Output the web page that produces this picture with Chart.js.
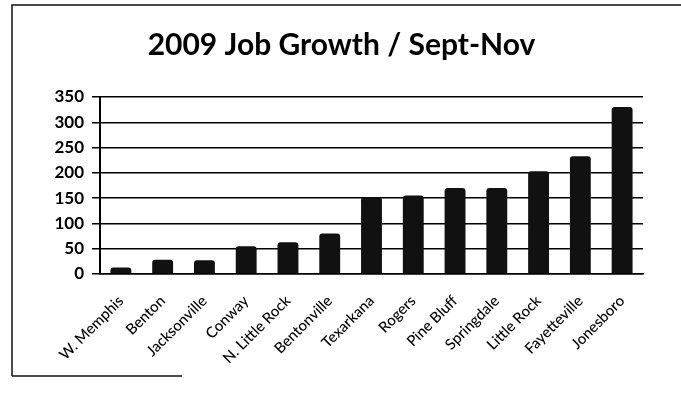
<!DOCTYPE html>
<html>
<head>
<meta charset="utf-8">
<script src="https://cdn.jsdelivr.net/npm/chart.js@4"></script>
<style>
  html, body { margin: 0; padding: 0; background: #fff; }
  #wrap { width: 681px; height: 404px; }
</style>
</head>
<body>
<div id="wrap"><canvas id="jobChart"></canvas></div>
<script>
// data
const cities = ["W. Memphis", "Benton", "Jacksonville", "Conway", "N. Little Rock", "Bentonville",
    "Texarkana", "Rogers", "Pine Bluff", "Springdale", "Little Rock", "Fayetteville", "Jonesboro"];
const jobGrowth = [13, 28, 27, 55, 63, 80, 152, 155, 170, 170, 203, 233, 330];
const yTicks = [0, 50, 100, 150, 200, 250, 300, 350];

// hand-drawn looking frame round the chart
const framePlugin = {
    id: "frame",
    afterDraw(chart) {
        const ctx = chart.ctx;
        ctx.save();
        ctx.strokeStyle = "#111";
        ctx.lineWidth = 1.5;
        ctx.beginPath();
        ctx.moveTo(12, 376);
        ctx.lineTo(12, 5);
        ctx.lineTo(681, 5);
        ctx.moveTo(12, 376);
        ctx.lineTo(182, 376);
        ctx.stroke();
        ctx.restore();
    }
};

new Chart(document.getElementById("jobChart"), {
    type: "bar",
    data: {
        labels: cities,
        datasets: [{
            label: "Jobs",
            data: jobGrowth,
            backgroundColor: "#111",
            borderRadius: 3,
            borderSkipped: "bottom",
            categoryPercentage: 1,
            barPercentage: 0.5
        }]
    },
    options: {
        responsive: true,
        maintainAspectRatio: false,
        animation: false,
        layout: { padding: { left: 40, right: 38, top: 0, bottom: 0 } },
        plugins: {
            legend: { display: false },
            tooltip: { enabled: false },
            title: {
                display: true,
                text: "2009 Job Growth / Sept-Nov",
                color: "#000",
                font: { family: "Lato", size: 30, weight: "bold" },
                padding: { top: 27, bottom: 34 }
            }
        },
        scales: {
            x: {
                afterFit: (scale) => { scale.height = 130; },
                grid: { display: false },
                border: { color: "#000", width: 1.5 },
                ticks: {
                    color: "#000",
                    font: { family: "Lato", size: 15, weight: "500" },
                    minRotation: 45,
                    maxRotation: 45,
                    padding: 10
                }
            },
            y: {
                min: 0,
                max: 350,
                afterFit: (scale) => { scale.width = 60; },
                afterBuildTicks: (scale) => { scale.ticks = yTicks.map(v => ({ value: v })); },
                border: { color: "#000", width: 2 },
                grid: { color: "#000", lineWidth: 1.5, tickLength: 8 },
                ticks: {
                    color: "#000",
                    font: { family: "Lato", size: 17, weight: "bold" },
                    padding: 8
                }
            }
        }
    },
    plugins: [framePlugin]
});
</script>
</body>
</html>
